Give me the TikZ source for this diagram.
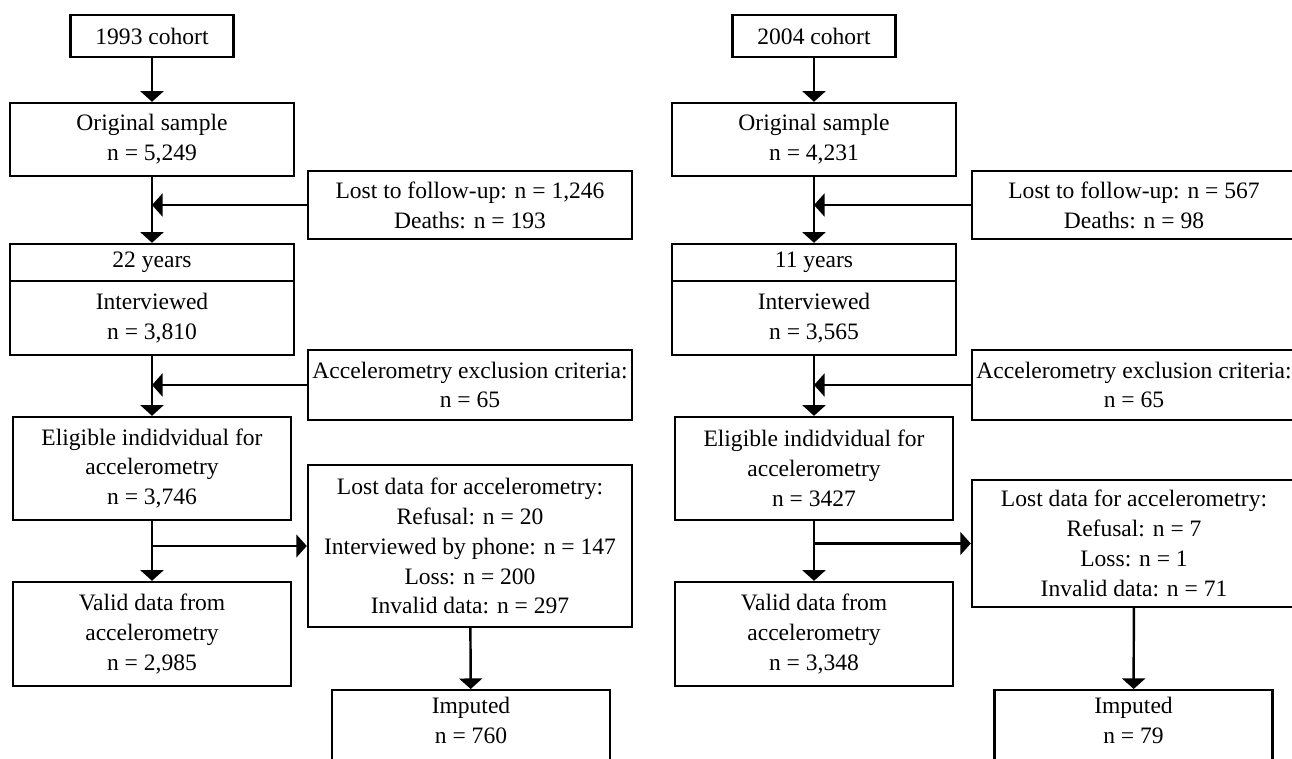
\documentclass[tikz,border=0pt]{standalone}
\usepackage{fontspec}
\setmainfont{Liberation Serif}
\usetikzlibrary{arrows.meta}

\begin{document}
\begin{tikzpicture}[x=0.02cm,y=-0.02cm,
  main/.style={draw,line width=1.4pt,align=center,inner xsep=1pt,inner ysep=4pt,font=\fontsize{13.4}{17}\selectfont},
  wide/.style={main,minimum width=5.68cm},
  side/.style={main,minimum width=6.48cm},
  arr/.style={-{Triangle[width=13pt,length=6pt]},line width=1.4pt}]
\useasboundingbox (0,0) rectangle (1292,758);

% 1993 cohort
\node[main,minimum width=3.26cm,minimum height=0.84cm] (coh1) at (152,36) {1993 cohort};
\node[wide,minimum height=1.46cm] (orig1) at (152,139.5) {Original sample\\n = 5,249};
\node[side,minimum height=1.36cm] (lost1) at (470,205) {Lost to follow-up: n = 1,246\\Deaths: n = 193};
\node[wide,minimum height=0.74cm] (yrs1) at (152,262.5) {22 years};
\node[wide,minimum height=1.48cm] (int1) at (152,318) {Interviewed\\n = 3,810};
\node[side,minimum height=1.4cm] (excl1) at (470,385) {Accelerometry exclusion criteria:\\n = 65};
\node[main,minimum width=5.56cm,minimum height=2.06cm] (elig1) at (152,468.5) {Eligible indidvidual for\\accelerometry\\n = 3,746};
\node[main,minimum width=5.56cm,minimum height=2.08cm] (valid1) at (152,634) {Valid data from\\accelerometry\\n = 2,985};
\node[side,minimum height=3.24cm] (miss1) at (470,546) {Lost data for accelerometry:\\Refusal: n = 20\\Interviewed by phone: n = 147\\Loss: n = 200\\Invalid data: n = 297};
\node[main,minimum width=5.56cm,text depth=1cm,anchor=north] (imp1) at (471,689) {Imputed\\n = 760};

\draw[arr] (coh1) -- (orig1);
\draw[arr] (orig1) -- (yrs1);
\draw[arr] (lost1.west) -- (lost1.west -| orig1);
\draw[arr] (int1) -- (elig1);
\draw[arr] (excl1.west) -- (excl1.west -| int1);
\draw[arr] (elig1) -- (valid1);
\draw[arr] (elig1.south |- miss1.west) -- (miss1.west);
\draw[arr] (miss1) -- (imp1);

% 2004 cohort
\node[main,minimum width=3.26cm,minimum height=0.84cm] (coh2) at (814,36) {2004 cohort};
\node[wide,minimum height=1.46cm] (orig2) at (814,139.5) {Original sample\\n = 4,231};
\node[side,minimum height=1.36cm] (lost2) at (1134,205) {Lost to follow-up: n = 567\\Deaths: n = 98};
\node[wide,minimum height=0.74cm] (yrs2) at (814,262.5) {11 years};
\node[wide,minimum height=1.48cm] (int2) at (814,318) {Interviewed\\n = 3,565};
\node[side,minimum height=1.4cm] (excl2) at (1134,385) {Accelerometry exclusion criteria:\\n = 65};
\node[main,minimum width=5.56cm,minimum height=2.06cm] (elig2) at (814,468.5) {Eligible indidvidual for\\accelerometry\\n = 3427};
\node[main,minimum width=5.56cm,minimum height=2.08cm] (valid2) at (814,634) {Valid data from\\accelerometry\\n = 3,348};
\node[side,minimum height=2.54cm] (miss2) at (1134,543.5) {Lost data for accelerometry:\\Refusal: n = 7\\Loss: n = 1\\Invalid data: n = 71};
\node[main,minimum width=5.56cm,text depth=1cm,anchor=north] (imp2) at (1133.5,689) {Imputed\\n = 79};

\draw[arr] (coh2) -- (orig2);
\draw[arr] (orig2) -- (yrs2);
\draw[arr] (lost2.west) -- (lost2.west -| orig2);
\draw[arr] (int2) -- (elig2);
\draw[arr] (excl2.west) -- (excl2.west -| int2);
\draw[arr] (elig2) -- (valid2);
\draw[arr] (elig2.south |- miss2.west) -- (miss2.west);
\draw[arr] (miss2) -- (imp2);

\end{tikzpicture}
\end{document}
